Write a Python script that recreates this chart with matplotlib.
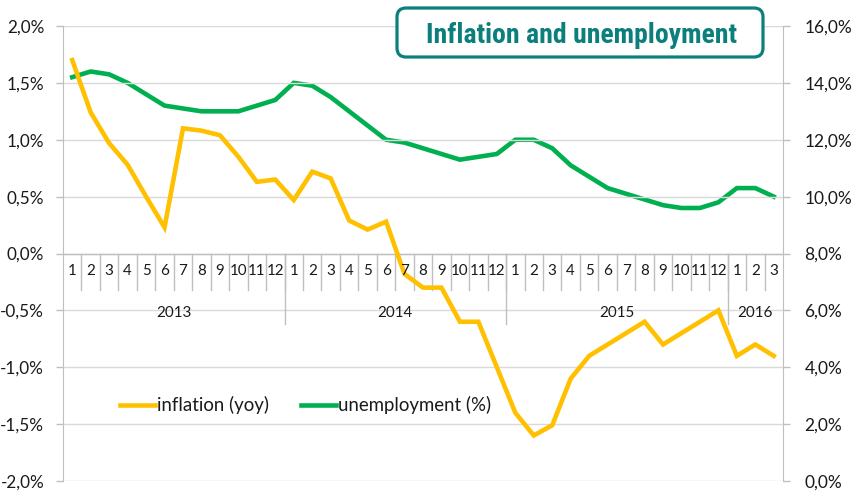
import matplotlib
matplotlib.use("Agg")
import matplotlib.pyplot as plt
from matplotlib.patches import FancyBboxPatch
from matplotlib.lines import Line2D
from matplotlib import font_manager as fm

# ---------------- data ----------------
years = ["2013", "2014", "2015", "2016"]
months_per_year = [12, 12, 12, 3]
month_labels = [str(m) for n in months_per_year for m in range(1, n + 1)]

inflation = [1.70, 1.24, 0.97, 0.78, 0.50, 0.23, 1.10, 1.08, 1.04, 0.85, 0.63, 0.65,
             0.47, 0.72, 0.66, 0.29, 0.21, 0.28, -0.18, -0.30, -0.30, -0.60, -0.60, -1.00,
             -1.40, -1.60, -1.51, -1.10, -0.90, -0.80, -0.70, -0.60, -0.80, -0.70, -0.60, -0.50,
             -0.90, -0.80, -0.90]
unemployment = [14.2, 14.4, 14.3, 14.0, 13.6, 13.2, 13.1, 13.0, 13.0, 13.0, 13.2, 13.4,
                14.0, 13.9, 13.5, 13.0, 12.5, 12.0, 11.9, 11.7, 11.5, 11.3, 11.4, 11.5,
                12.0, 12.0, 11.7, 11.1, 10.7, 10.3, 10.1, 9.9, 9.7, 9.6, 9.6, 9.8,
                10.3, 10.3, 10.0]

left_ticks = [-2.0, -1.5, -1.0, -0.5, 0.0, 0.5, 1.0, 1.5, 2.0]
right_ticks = [0, 2, 4, 6, 8, 10, 12, 14, 16]

title = "Inflation and unemployment"
series_names = ["inflation (yoy)", "unemployment (%)"]

# ---------------- style ----------------
ORANGE = "#FFC000"
GREEN = "#00B050"
TEAL = "#0A7F7B"
GRID = "#D9D9D9"
AXIS = "#BFBFBF"
TXT = "#1a1a1a"

plt.rcParams["font.family"] = ["Lato", "DejaVu Sans"]

W, H, DPI = 856, 491, 100
fig = plt.figure(figsize=(W / DPI, H / DPI), dpi=DPI)
fig.patch.set_facecolor("white")

left_px, right_px, top_px, bottom_px = 63, 783, 26, 481
ax = fig.add_axes([left_px / W, (H - bottom_px) / H,
                   (right_px - left_px) / W, (bottom_px - top_px) / H])
ax2 = ax.twinx()

n = len(inflation)
x = list(range(n))

ax.set_xlim(-0.5, n - 0.5)
ax.set_ylim(-2.0, 2.0)
ax2.set_ylim(0, 16)

# gridlines
for v in left_ticks:
    ax.axhline(v, color=GRID, lw=1.0, zorder=0)
ax.axhline(0, color=AXIS, lw=1.0, zorder=1)

# lines
ax.plot(x, inflation, color=ORANGE, lw=3.3, solid_joinstyle="miter", zorder=3)
ax2.plot(x, unemployment, color=GREEN, lw=3.3, solid_joinstyle="miter", zorder=3)
ax.set_zorder(ax2.get_zorder() + 1)
ax.patch.set_visible(False)

# spines
for a in (ax, ax2):
    for s in ("top", "bottom"):
        a.spines[s].set_visible(False)
ax.spines["left"].set_color(AXIS)
ax.spines["right"].set_visible(False)
ax2.spines["left"].set_visible(False)
ax2.spines["right"].set_color(AXIS)

ax.set_xticks([])
ax.set_yticks(left_ticks)
ax.set_yticklabels([f"{v:.1f}%".replace(".", ",") for v in left_ticks])
ax2.set_yticks(right_ticks)
ax2.set_yticklabels([f"{v:.1f}%".replace(".", ",") for v in right_ticks])
ax.tick_params(axis="y", length=5, width=1, color=AXIS, labelsize=12.3,
               labelcolor=TXT, pad=8.5)
ax2.tick_params(axis="y", length=5, width=1, color=AXIS, labelsize=12.5,
                labelcolor=TXT, pad=10.5)

# multi-level category axis (below zero line)
month_sep_bottom = -0.317
year_sep_bottom = -0.616
for i in range(1, n):
    ax.plot([i - 0.5, i - 0.5], [0, month_sep_bottom], color=AXIS, lw=1.0, zorder=1)
for i, lab in enumerate(month_labels):
    ax.text(i, -0.158, lab, ha="center", va="center", fontsize=10.9, color=TXT)

start = 0
for yr, cnt in zip(years, months_per_year):
    end = start + cnt
    if start > 0:
        ax.plot([start - 0.5, start - 0.5], [0, year_sep_bottom], color=AXIS, lw=1.0, zorder=1)
    ax.text((start + end - 1) / 2, -0.52, yr, ha="center", va="center",
            fontsize=10.9, color=TXT)
    start = end

# legend
handles = [Line2D([], [], color=ORANGE, lw=3.3),
           Line2D([], [], color=GREEN, lw=3.3)]
fig.legend(handles, series_names, loc="center left",
           bbox_to_anchor=(120 / W, (H - 405) / H), ncol=2, frameon=False,
           fontsize=13.4, handlelength=1.9, handletextpad=0.1, columnspacing=1.7,
           borderpad=0, borderaxespad=0, labelcolor=TXT)

# title box
box = FancyBboxPatch((397 / DPI, (H - 57) / DPI), 366 / DPI, 49 / DPI,
                     boxstyle="round,pad=0,rounding_size=0.09",
                     transform=fig.dpi_scale_trans, facecolor="white",
                     edgecolor=TEAL, linewidth=2.3, zorder=10)
fig.patches.append(box)


def pick_title_font():
    prefs = ["Liberation Sans Narrow", "Arial Narrow", "Roboto Condensed",
             "Open Sans Condensed", "DejaVu Sans Condensed"]
    cands = []
    for f in fm.fontManager.ttflist:
        w = f.weight if isinstance(f.weight, int) else (700 if "bold" in str(f.weight).lower() else 400)
        if w < 600 or "italic" in str(f.style).lower() or "oblique" in str(f.style).lower():
            continue
        narrow = ("Narrow" in f.name or "Condensed" in f.name or
                  "ondensed" in str(f.stretch) or "Narrow" in f.fname or "Condensed" in f.fname)
        if narrow:
            cands.append(f)
    for p in prefs:
        for f in cands:
            if f.name == p or p.replace(" ", "") in f.fname.replace(" ", ""):
                return fm.FontProperties(fname=f.fname)
    if cands:
        return fm.FontProperties(fname=cands[0].fname)
    return fm.FontProperties(family=["Roboto", "Liberation Sans", "DejaVu Sans"], weight="bold")


tfp = pick_title_font()
size = 20.0
tfp.set_size(size)
ttl = fig.text(581 / W, (H - 43) / H, title, ha="center", va="baseline",
               color=TEAL, fontproperties=tfp, zorder=11)
fig.canvas.draw()
wpx = ttl.get_window_extent().width
target = 318.0
if wpx > target:
    tfp2 = tfp.copy()
    tfp2.set_size(size * target / wpx)
    ttl.set_fontproperties(tfp2)

fig.savefig("out.png", dpi=DPI, facecolor="white")
